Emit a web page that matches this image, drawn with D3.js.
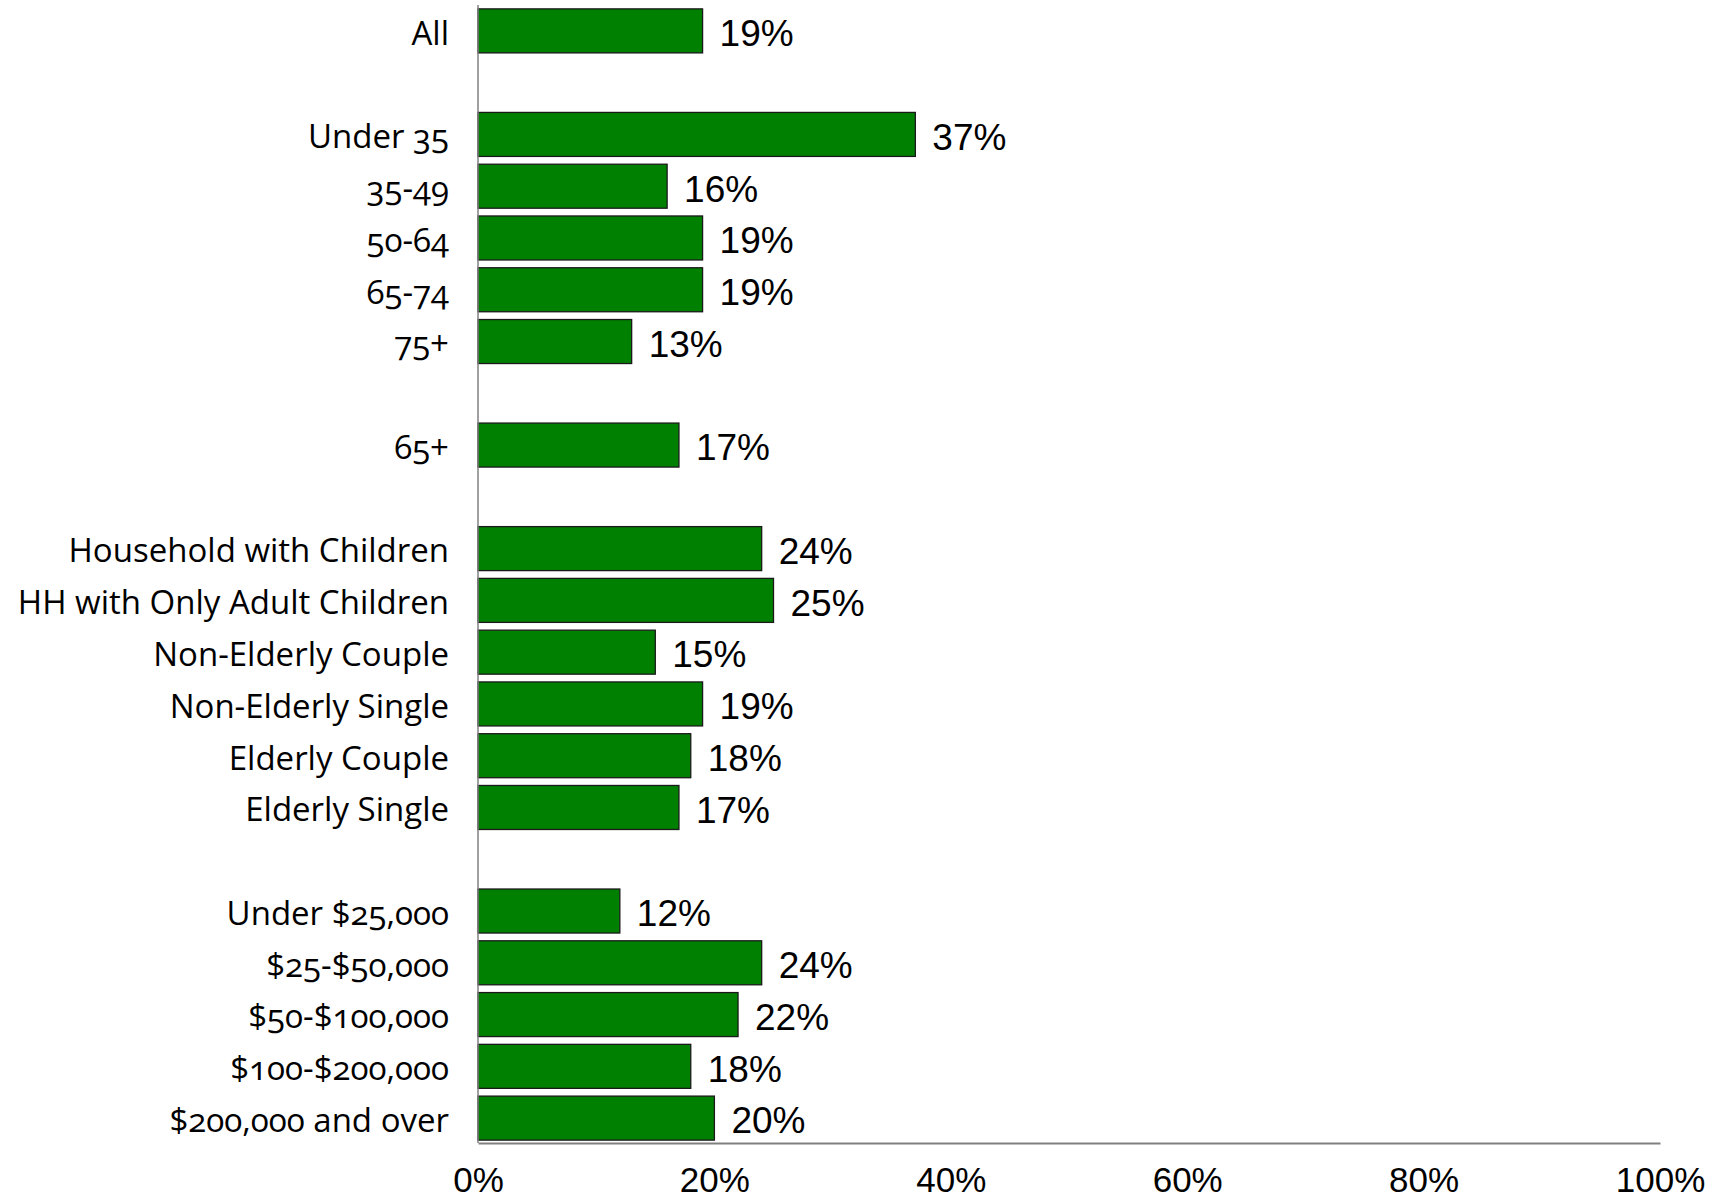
<!DOCTYPE html>
<html>
<head>
<meta charset="utf-8">
<script src="https://cdn.jsdelivr.net/npm/d3@7"></script>
<style>
  body { margin: 0; background: #fff; }
  .cat { font-family: "Open Sans", "Noto Sans", sans-serif; font-variant-numeric: oldstyle-nums; font-size: 33px; fill: #000; }
  .val { font-family: "Liberation Sans", Arial, sans-serif; font-size: 37px; fill: #000; }
  .tick text { font-family: "Liberation Sans", Arial, sans-serif; font-size: 35px; fill: #000; }
</style>
</head>
<body>
<svg id="chart"></svg>
<script>
// null entries are the empty spacer rows between groups
const categories = [
  'All', null,
  'Under 35', '35-49', '50-64', '65-74', '75+', null,
  '65+', null,
  'Household with Children', 'HH with Only Adult Children', 'Non-Elderly Couple',
  'Non-Elderly Single', 'Elderly Couple', 'Elderly Single', null,
  'Under $25,000', '$25-$50,000', '$50-$100,000', '$100-$200,000', '$200,000 and over'
];
const values = [
  19, null,
  37, 16, 19, 19, 13, null,
  17, null,
  24, 25, 15, 19, 18, 17, null,
  12, 24, 22, 18, 20
];
const ticks = [0, 20, 40, 60, 80, 100];

const width = 1721, height = 1200;
const x0 = 478, x1 = 1660, yTop = 5, yAxis = 1143;

const svg = d3.select('#chart')
  .attr('width', width)
  .attr('height', height)
  .attr('viewBox', `0 0 ${width} ${height}`);

const x = d3.scaleLinear().domain([0, 100]).range([x0, x1]);
const y = d3.scaleBand()
  .domain(d3.range(categories.length))
  .range([yTop, yAxis + 1])
  .paddingInner(0.15)
  .paddingOuter(0.075);

const rows = categories.map((c, i) => ({ i, cat: c, v: values[i] })).filter(d => d.cat !== null);

svg.append('g')
  .selectAll('rect')
  .data(rows)
  .enter().append('rect')
    .attr('x', x(0))
    .attr('y', d => y(d.i))
    .attr('width', d => x(d.v) - x(0))
    .attr('height', y.bandwidth())
    .style('fill', '#008000')
    .style('stroke', '#1a1a1a')
    .style('stroke-width', 1.3);

svg.append('g')
  .selectAll('text')
  .data(rows)
  .enter().append('text')
    .attr('class', 'val')
    .attr('x', d => x(d.v) + 17)
    .attr('y', d => y(d.i) + y.bandwidth() / 2 + 2)
    .attr('dy', '0.36em')
    .text(d => d.v + '%');

svg.append('g')
  .selectAll('text')
  .data(rows)
  .enter().append('text')
    .attr('class', 'cat')
    .attr('x', x0 - 29)
    .attr('y', d => y(d.i) + y.bandwidth() / 2 + 2)
    .attr('dy', '0.36em')
    .attr('text-anchor', 'end')
    .text(d => d.cat);

// vertical baseline
svg.append('line')
  .attr('x1', x(0)).attr('x2', x(0))
  .attr('y1', yTop).attr('y2', yAxis)
  .style('stroke', '#808080')
  .style('stroke-width', 1.5);

const xAxis = svg.append('g')
  .attr('transform', `translate(0, ${yAxis})`)
  .call(d3.axisBottom(x).tickValues(ticks).tickSize(0).tickPadding(24).tickFormat(d => d + '%'));
xAxis.select('.domain').style('stroke', '#808080').style('stroke-width', 2);
</script>
</body>
</html>
